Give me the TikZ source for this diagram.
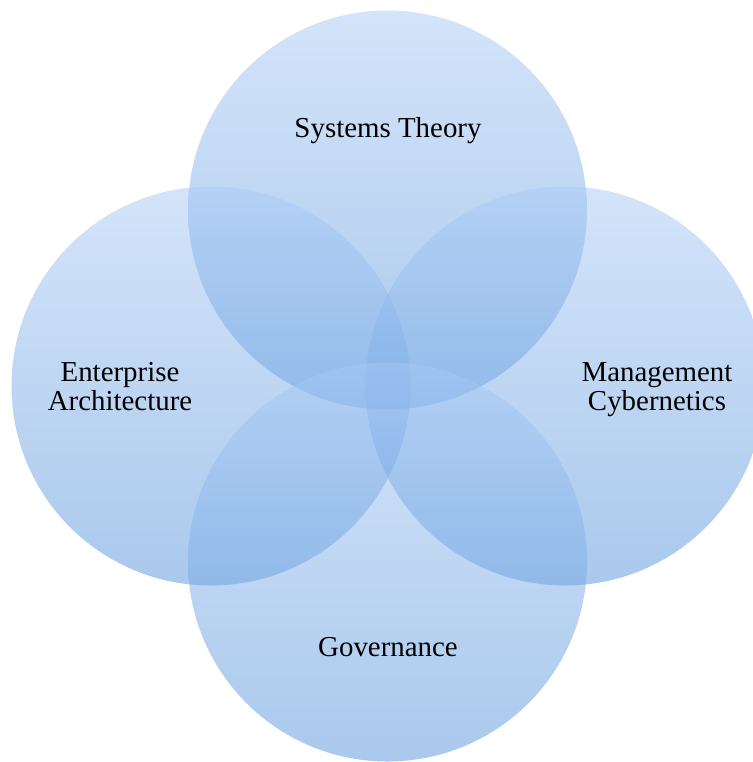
\documentclass[tikz,border=0pt]{standalone}
\usepackage{fontspec}
\setmainfont{Liberation Serif}
\definecolor{ctop}{RGB}{169,201,245}
\definecolor{cbot}{RGB}{84,147,218}
\tikzset{
  venn/.style={circle, inner sep=0pt, minimum size=399pt, top color=ctop, bottom color=cbot, fill opacity=0.5, draw=none},
  lbl/.style={align=center, font=\fontsize{28.9}{29}\selectfont, text=black}
}
\begin{document}
\begin{tikzpicture}[x=1pt,y=-1pt]
\useasboundingbox (0,0) rectangle (752,762);
\node[venn] (top) at (387.5,210) {};
\node[venn] (left) at (211,386) {};
\node[venn] (right) at (565,386) {};
\node[venn] (bottom) at (387.5,562) {};
\node[lbl] (tl) at (388,131) {Systems Theory};
\node[lbl] (ll) at (120,387) {Enterprise\\Architecture};
\node[lbl] (rl) at (657,390) {Management\\Cybernetics};
\node[lbl] (bl) at (388,647) {Governance};
\end{tikzpicture}
\end{document}
